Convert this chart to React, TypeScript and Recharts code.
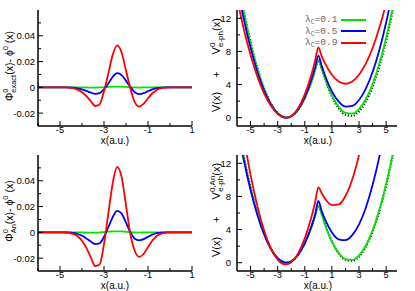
import { LineChart, Line, XAxis, YAxis, Legend } from "recharts"

const FONT = "'Liberation Sans', Arial, sans-serif"
const GREEN = "#00e400"
const BLUE = "#0000ff"
const RED = "#ff0000"

// left column: wavefunction differences
const diffX = [-6, -5, -4.8, -4.6, -4.4, -4.2, -4, -3.8, -3.6, -3.4, -3.2, -3, -2.8, -2.6, -2.4, -2.2, -2, -1.8, -1.6, -1.4, -1.2, -1, -0.8, -0.6, -0.4, -0.2, 0, 1]
const exactGreen = [0, 0, 0, 0, 0, 0, -0.0001, -0.0001, -0.0002, -0.0002, -0.0001, 0.0001, 0.0003, 0.0005, 0.0006, 0.0005, 0.0003, 0.0001, -0.0001, -0.0002, -0.0001, 0, 0, 0, 0, 0, 0, 0]
const exactBlue = [0, 0, 0, -0.0001, -0.0003, -0.0008, -0.0016, -0.0028, -0.0041, -0.005, -0.0045, -0.0015, 0.003, 0.0082, 0.011, 0.0095, 0.005, 0.0002, -0.0038, -0.0052, -0.0045, -0.003, -0.0016, -0.0007, -0.0002, 0, 0, 0]
const exactRed = [0, 0, 0, -0.0002, -0.0007, -0.0018, -0.0038, -0.0068, -0.0108, -0.0145, -0.0132, -0.003, 0.011, 0.0255, 0.0325, 0.027, 0.013, -0.001, -0.0115, -0.015, -0.0128, -0.0085, -0.0046, -0.002, -0.0007, -0.0002, 0, 0]
const anGreen = [0, 0, 0, 0, 0, 0, -0.0001, -0.0002, -0.0002, -0.0003, -0.0001, 0.0002, 0.0005, 0.0007, 0.0008, 0.0007, 0.0004, 0.0001, -0.0001, -0.0002, -0.0001, 0, 0, 0, 0, 0, 0, 0]
const anBlue = [0, 0, 0, -0.0001, -0.0005, -0.0013, -0.0027, -0.0047, -0.0071, -0.0091, -0.0085, -0.0035, 0.004, 0.012, 0.0166, 0.0145, 0.0075, 0, -0.005, -0.0062, -0.0053, -0.0035, -0.0018, -0.0007, -0.0002, 0, 0, 0]
const anRed = [0, 0, -0.0001, -0.0004, -0.0012, -0.003, -0.0065, -0.012, -0.0195, -0.0262, -0.025, -0.009, 0.015, 0.0385, 0.0507, 0.043, 0.021, -0.0015, -0.0145, -0.019, -0.0168, -0.0115, -0.0063, -0.0028, -0.001, -0.0003, 0, 0]

const diffXTicks = [-6, -5, -4, -3, -2, -1, 0, 1]
const diffXLabels = ["", "-5", "", "-3", "", "-1", "", "1"]
const diffYTicks = [-0.02, -0.01, 0, 0.01, 0.02, 0.03, 0.04, 0.05]
const diffYLabels = ["-0.02", "", "0", "", "0.02", "", "0.04", ""]

// right column: potentials
const potX = [-6, -5.5, -5, -4.5, -4, -3.5, -3, -2.5, -2.35, -2, -1.5, -1, -0.5, -0.25, 0, 0.25, 0.5, 1, 1.5, 2, 2.5, 3, 3.5, 4, 4.5, 5, 5.5, 6]
const potDotted = [17.3, 12.9, 9.13, 6.0, 3.54, 1.72, 0.55, 0.03, 0, 0.16, 0.94, 2.37, 4.45, 5.73, 6.9, 5.93, 4.65, 2.57, 1.14, 0.36, 0.23, 0.75, 1.92, 3.74, 6.21, 9.33, 13.1, 17.9]
const potGreen = [17.05, 12.7, 8.99, 5.92, 3.48, 1.69, 0.54, 0.03, 0, 0.16, 0.92, 2.33, 4.38, 5.64, 7.0, 5.93, 4.69, 2.68, 1.31, 0.58, 0.49, 1.04, 2.23, 4.06, 6.53, 9.64, 13.39, 17.7]
const potBlue = [16.0, 11.9, 8.43, 5.55, 3.27, 1.59, 0.51, 0.03, 0, 0.17, 0.98, 2.48, 4.65, 6.0, 7.5, 6.24, 5.06, 3.17, 1.94, 1.35, 1.42, 2.13, 3.5, 5.51, 8.18, 11.49, 15.46, 20.1]
const potRed = [14.4, 10.7, 7.58, 4.99, 2.94, 1.43, 0.46, 0.02, 0, 0.19, 1.11, 2.81, 5.27, 6.79, 8.5, 7.41, 6.53, 5.18, 4.37, 4.1, 4.37, 5.18, 6.53, 8.42, 10.85, 13.82, 17.3, 21.4]
const anPotGreen = [17.05, 12.7, 8.99, 5.92, 3.48, 1.69, 0.54, 0.03, 0, 0.16, 0.92, 2.33, 4.38, 5.64, 6.85, 5.78, 4.54, 2.53, 1.16, 0.43, 0.34, 0.89, 2.08, 3.91, 6.38, 9.49, 13.24, 17.6]
const anPotBlue = [16.65, 12.4, 8.78, 5.78, 3.4, 1.65, 0.53, 0.03, 0, 0.16, 0.93, 2.35, 4.41, 5.69, 7.45, 6.22, 5.19, 3.66, 2.83, 2.72, 3.32, 4.62, 6.64, 9.37, 12.8, 16.95, 21.8, 27.4]
const anPotRed = [20.5, 15.2, 10.6, 6.86, 3.9, 1.74, 0.38, -0.18, -0.2, 0.06, 1.1, 2.94, 5.58, 7.2, 9.1, 8.39, 7.71, 6.96, 7.03, 8.05, 10.04, 12.99, 16.9, 21.8, 27.6, 34.5, 42.2, 51.0]

const potXTicks = [-5, -4, -3, -2, -1, 0, 1, 2, 3, 4, 5]
const potXLabels = ["-5", "", "-3", "", "-1", "", "1", "", "3", "", "5"]
const potYTicks = [0, 2, 4, 6, 8, 10, 12]
const potYLabels = ["0", "", "4", "", "8", "", "12"]

const lambdas = ["0.1", "0.5", "0.9"]
const lambdaColors = [GREEN, BLUE, RED]

const diffRows = (g: number[], b: number[], r: number[]) =>
  diffX.map((x, i) => ({ x, g: g[i], b: b[i], r: r[i] }))
const potRows = (g: number[], b: number[], r: number[]) =>
  potX.map((x, i) => ({ x, d: potDotted[i], g: g[i], b: b[i], r: r[i] }))

interface TickProps {
  x?: number
  y?: number
  index?: number
  labels: string[]
  gap?: number
}

function BottomTick({ x = 0, y = 0, index = 0, labels }: TickProps) {
  const label = labels[index]
  return (
    <g>
      <line x1={x} x2={x} y1={y} y2={y - (label ? 5 : 3)} stroke="#000" />
      {label ? (
        <text x={x} y={y + 7.2} textAnchor="middle" fontSize={9.3} fontFamily={FONT} fill="#000">
          {label}
        </text>
      ) : null}
    </g>
  )
}

function TopTick({ x = 0, y = 0, index = 0, labels }: TickProps) {
  return <line x1={x} x2={x} y1={y} y2={y + (labels[index] ? 5 : 3)} stroke="#000" />
}

function LeftTick({ x = 0, y = 0, index = 0, labels, gap = 3 }: TickProps) {
  const label = labels[index]
  return (
    <g>
      <line x1={x} x2={x + (label ? 5 : 3)} y1={y} y2={y} stroke="#000" />
      {label ? (
        <text x={x - gap} y={y + 3.4} textAnchor="end" fontSize={9.5} fontFamily={FONT} fill="#000">
          {label}
        </text>
      ) : null}
    </g>
  )
}

function RightTick({ x = 0, y = 0, index = 0, labels }: TickProps) {
  return <line x1={x} x2={x - (labels[index] ? 5 : 3)} y1={y} y2={y} stroke="#000" />
}

function XTitle({ cx }: { cx: number }) {
  return (
    <text x={cx} y={144.3} textAnchor="middle" fontSize={10} fontFamily={FONT} fill="#000">
      x(a.u.)
    </text>
  )
}

function DiffTitle({ sub }: { sub: string }) {
  return (
    <text transform="translate(12.5,66) rotate(-90)" textAnchor="middle" fontSize={10.5} fontFamily={FONT} fill="#000">
      <tspan>Φ</tspan>
      <tspan fontSize={7.5} dy={-4.5}>0</tspan>
      <tspan fontSize={7.5} dx={-4.2} dy={7.5}>{sub}</tspan>
      <tspan dy={-3}>(x)- ϕ</tspan>
      <tspan fontSize={7.5} dy={-4.5}>0</tspan>
      <tspan dy={4.5}> (x)</tspan>
    </text>
  )
}

function PotTitle({ sup, supWidth }: { sup: string; supWidth: number }) {
  return (
    <text transform="translate(14.5,112) rotate(-90)" textAnchor="start" fontSize={11} fontFamily={FONT} fill="#000">
      <tspan>V(x)</tspan>
      <tspan dx={14}>+</tspan>
      <tspan dx={17}>V</tspan>
      <tspan fontSize={8} dy={-4.5}>{sup}</tspan>
      <tspan fontSize={8} dx={-supWidth} dy={8}>e-ph</tspan>
      <tspan dy={-3.5}>(x)</tspan>
    </text>
  )
}

function PotLegend() {
  return (
    <div style={{ fontFamily: "'Liberation Mono', 'Courier New', monospace", fontSize: 9.5, color: "#666" }}>
      {lambdas.map((v, i) => (
        <div key={v} style={{ display: "flex", alignItems: "center", height: 11.6 }}>
          <span style={{ width: 36, whiteSpace: "nowrap" }}>
            λ<span style={{ fontSize: 6.5, position: "relative", top: 2 }}>C</span>={v}
          </span>
          <span style={{ width: 25, height: 2, background: lambdaColors[i], display: "inline-block" }} />
        </div>
      ))}
    </div>
  )
}

const frame = { stroke: "#000", strokeWidth: 1.5 }

function DiffPanel({ data, height, sub }: { data: ReturnType<typeof diffRows>; height: number; sub: string }) {
  return (
    <LineChart width={205} height={height} data={data} margin={{ top: 10, right: 13, bottom: 0, left: 0 }}>
      <XAxis dataKey="x" type="number" domain={[-6, 1]} ticks={diffXTicks} interval={0} allowDataOverflow
        height={height - 126} tickSize={0} tickMargin={0} tickLine={false} axisLine={frame}
        tick={<BottomTick labels={diffXLabels} />} label={<XTitle cx={115} />} />
      <XAxis xAxisId="t" orientation="top" dataKey="x" type="number" domain={[-6, 1]} ticks={diffXTicks} interval={0}
        allowDataOverflow height={0} tickSize={0} tickMargin={0} tickLine={false} axisLine={frame}
        tick={<TopTick labels={diffXLabels} />} />
      <YAxis type="number" domain={[-0.03, 0.06]} ticks={diffYTicks} interval={0} allowDataOverflow width={38}
        tickSize={0} tickMargin={0} tickLine={false} axisLine={frame}
        tick={<LeftTick labels={diffYLabels} gap={3} />} label={<DiffTitle sub={sub} />} />
      <YAxis yAxisId="r" orientation="right" type="number" domain={[-0.03, 0.06]} ticks={diffYTicks} interval={0}
        allowDataOverflow width={0} tickSize={0} tickMargin={0} tickLine={false} axisLine={frame}
        tick={<RightTick labels={diffYLabels} />} />
      <Line dataKey="g" type="monotone" stroke={GREEN} strokeWidth={1.8} dot={false} isAnimationActive={false} />
      <Line dataKey="b" type="monotone" stroke={BLUE} strokeWidth={1.8} dot={false} isAnimationActive={false} />
      <Line dataKey="r" type="monotone" stroke={RED} strokeWidth={1.8} dot={false} isAnimationActive={false} />
    </LineChart>
  )
}

function PotPanel({ data, height, sup, supWidth, legend }: { data: ReturnType<typeof potRows>; height: number; sup: string; supWidth: number; legend?: boolean }) {
  return (
    <LineChart width={210} height={height} data={data} margin={{ top: 10, right: 18, bottom: 0, left: 0 }}>
      <XAxis dataKey="x" type="number" domain={[-6, 5.8]} ticks={potXTicks} interval={0} allowDataOverflow
        height={height - 126} tickSize={0} tickMargin={0} tickLine={false} axisLine={frame}
        tick={<BottomTick labels={potXLabels} />} label={<XTitle cx={113} />} />
      <XAxis xAxisId="t" orientation="top" dataKey="x" type="number" domain={[-6, 5.8]} ticks={potXTicks} interval={0}
        allowDataOverflow height={0} tickSize={0} tickMargin={0} tickLine={false} axisLine={frame}
        tick={<TopTick labels={potXLabels} />} />
      <YAxis type="number" domain={[-1, 13]} ticks={potYTicks} interval={0} allowDataOverflow width={32}
        tickSize={0} tickMargin={0} tickLine={false} axisLine={frame}
        tick={<LeftTick labels={potYLabels} gap={6} />} label={<PotTitle sup={sup} supWidth={supWidth} />} />
      <YAxis yAxisId="r" orientation="right" type="number" domain={[-1, 13]} ticks={potYTicks} interval={0}
        allowDataOverflow width={0} tickSize={0} tickMargin={0} tickLine={false} axisLine={frame}
        tick={<RightTick labels={potYLabels} />} />
      {legend ? (
        <Legend layout="vertical" align="center" verticalAlign="middle" content={() => <PotLegend />}
          wrapperStyle={{ left: 100, top: 14, width: 70 }} />
      ) : null}
      <Line dataKey="d" type="monotone" stroke="#000" strokeWidth={2.2} strokeDasharray="1 2" dot={false} isAnimationActive={false} legendType="none" />
      <Line dataKey="g" type="monotone" stroke={GREEN} strokeWidth={1.8} dot={false} isAnimationActive={false} />
      <Line dataKey="b" type="monotone" stroke={BLUE} strokeWidth={1.8} dot={false} isAnimationActive={false} />
      <Line dataKey="r" type="monotone" stroke={RED} strokeWidth={1.8} dot={false} isAnimationActive={false} />
    </LineChart>
  )
}

export default function App() {
  return (
    <div style={{ position: "absolute", left: 0, top: 0, width: 415, height: 291, background: "#fff", overflow: "hidden" }}>
      <div style={{ position: "absolute", left: 0, top: 0 }}>
        <DiffPanel data={diffRows(exactGreen, exactBlue, exactRed)} height={148} sub="exact" />
      </div>
      <div style={{ position: "absolute", left: 205, top: 0 }}>
        <PotPanel data={potRows(potGreen, potBlue, potRed)} height={148} sup="0" supWidth={4.4} legend />
      </div>
      <div style={{ position: "absolute", left: 0, top: 145 }}>
        <DiffPanel data={diffRows(anGreen, anBlue, anRed)} height={146} sub="An" />
      </div>
      <div style={{ position: "absolute", left: 205, top: 145 }}>
        <PotPanel data={potRows(anPotGreen, anPotBlue, anPotRed)} height={146} sup="0,An" supWidth={16.2} />
      </div>
    </div>
  )
}
